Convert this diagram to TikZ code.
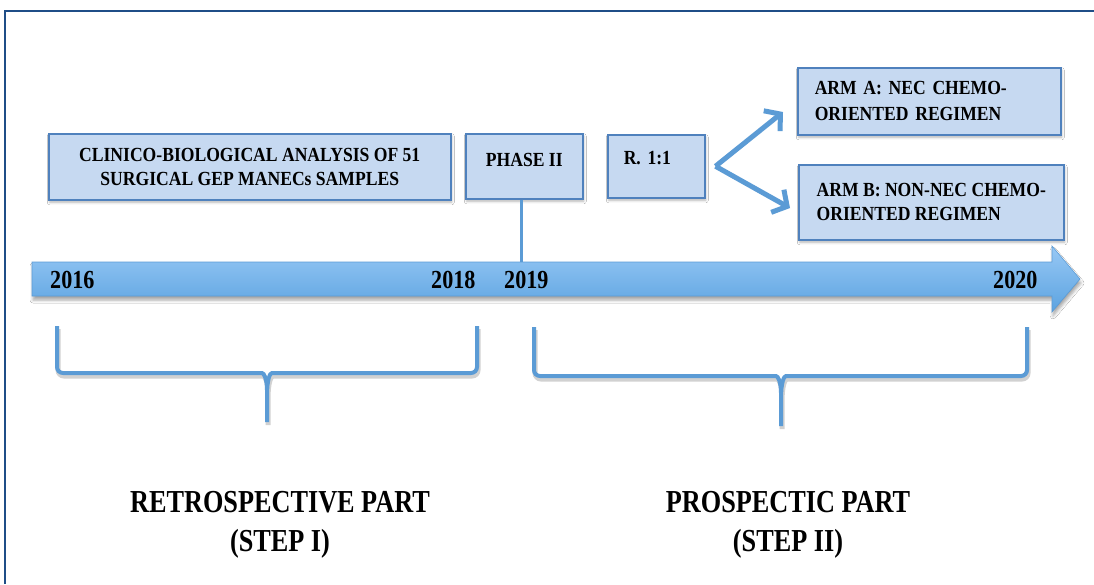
\documentclass[tikz,border=0pt]{standalone}
\usepackage{fontspec}
\setmainfont{Liberation Serif}
\newfontfamily\boxfont[FakeStretch=0.88]{Liberation Serif}
\newfontfamily\yearfont[FakeStretch=0.85]{Liberation Serif}
\newfontfamily\titlefont[FakeStretch=0.82]{Liberation Serif}
\usetikzlibrary{arrows.meta,shadows.blur}
\definecolor{framecol}{HTML}{1F4E87}
\definecolor{boxfill}{HTML}{C6D9F1}
\definecolor{boxborder}{HTML}{4F81BD}
\definecolor{connblue}{HTML}{5B9BD5}
\definecolor{tltop}{HTML}{97C8F5}
\definecolor{tlbot}{HTML}{5CA3E0}
\tikzset{
  softshadow/.style={blur shadow={shadow xshift=1pt, shadow yshift=-2.5pt, shadow blur radius=2.5pt, shadow opacity=30}},
  stepbox/.style={draw=boxborder, fill=boxfill, line width=1.5pt, inner sep=0pt, softshadow,
    font=\boxfont\bfseries\fontsize{20}{24}\selectfont},
  conn/.style={draw=connblue, line width=3pt},
  arr/.style={draw=connblue, line width=5pt, -{Straight Barb[length=11pt,width=26pt,line width=5pt]}},
  bracepath/.style={draw=connblue, line width=4pt, rounded corners=6pt,
    preaction={draw=black!18, line width=5pt, transform canvas={shift={(1pt,-3pt)}}}},
  yearlabel/.style={font=\yearfont\bfseries\fontsize{26}{30}\selectfont, inner sep=0pt, anchor=base west},
  parttitle/.style={font=\titlefont\bfseries\fontsize{32}{39}\selectfont, align=center, inner sep=0pt}
}
\begin{document}
\begin{tikzpicture}[x=1pt,y=-1pt]
\useasboundingbox (0,0) rectangle (1094,584);
\fill[white] (0,0) rectangle (1094,584);
% frame
\draw[framecol, line width=2.2pt] (5,584) -- (5,11) -- (1094,11);

% timeline arrow
\path[shade, top color=tltop, bottom color=tlbot, draw=connblue, line width=0.6pt,
  blur shadow={shadow xshift=1pt, shadow yshift=-4pt, shadow blur radius=3pt, shadow opacity=35}]
  (32,262) -- (1052,262) -- (1052,246) -- (1080,279) -- (1052,312) -- (1052,296) -- (32,296) -- cycle;
\coordinate (tl) at (521,262);

% boxes
\node[stepbox, anchor=north west, minimum width=402pt, minimum height=66pt, align=center] (clin) at (48,133)
  {CLINICO-BIOLOGICAL ANALYSIS OF 51\\SURGICAL GEP MANECs SAMPLES};
\node[stepbox, anchor=north west, minimum width=117pt, text height=33pt, text depth=32pt, align=center] (phase) at (465,133)
  {PHASE II};
\node[stepbox, anchor=north west, inner xsep=16pt, text width=65pt, text height=30pt, text depth=33pt, align=left] (r) at (607,134)
  {R. 1:1};
\node[stepbox, anchor=north west, inner xsep=17pt, text width=229pt, minimum height=67pt, align=left,
  font=\boxfont\bfseries\fontsize{20}{26}\selectfont] (armA) at (797,67)
  {ARM A: NEC CHEMO-\\ORIENTED REGIMEN};
\node[stepbox, anchor=north west, minimum width=265pt, minimum height=75pt, align=left] (armB) at (798,164)
  {ARM B: NON-NEC CHEMO-\\ORIENTED REGIMEN};

% connectors
\draw[conn] (tl |- phase.south) -- (tl);
\coordinate (aEnd) at (783,112);
\coordinate (bEnd) at (790,208);
\draw[arr] ([xshift=10pt]r.east) -- (aEnd);
\draw[arr] ([xshift=10pt]r.east) -- (bEnd);

% years
\node[yearlabel] (y2016) at (50,288) {2016};
\node[yearlabel] (y2018) at (431,288) {2018};
\node[yearlabel] (y2019) at (504,288) {2019};
\node[yearlabel] (y2020) at (993,288) {2020};

% braces
\draw[bracepath] (57,326) -- (57,373) -- (256,373) .. controls (264,373) and (267,379) .. (267,396) -- (267,422)
  (477,326) -- (477,373) -- (278,373) .. controls (270,373) and (267,379) .. (267,396);
\draw[bracepath] (534,327) -- (534,376) -- (770,376) .. controls (778,376) and (781,382) .. (781,399) -- (781,426)
  (1027,327) -- (1027,376) -- (792,376) .. controls (784,376) and (781,382) .. (781,399);

% titles
\node[parttitle] (retro) at (280,525) {RETROSPECTIVE PART\\(STEP I)};
\node[parttitle] (prosp) at (788,525) {PROSPECTIC PART\\(STEP II)};
\end{tikzpicture}
\end{document}
